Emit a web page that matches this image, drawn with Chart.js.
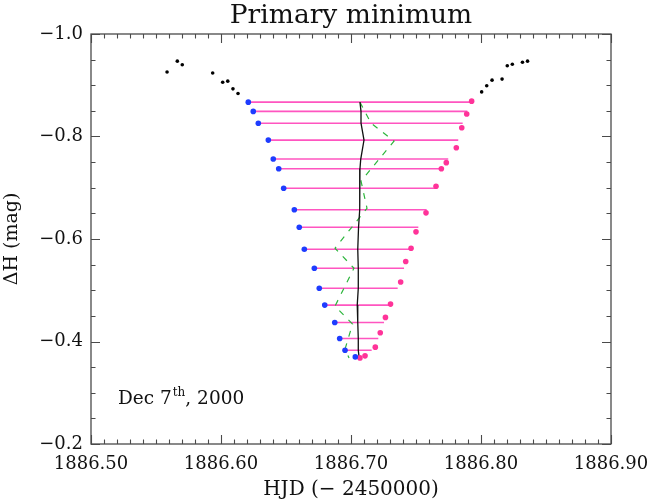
<!DOCTYPE html>
<html>
<head>
<meta charset="utf-8">
<script src="https://cdn.jsdelivr.net/npm/chart.js@4.4.1/dist/chart.umd.min.js"></script>
<style>
  html, body { margin: 0; padding: 0; background: #fff; }
  #wrap { width: 653px; height: 503px; }
</style>
</head>
<body>
<div id="wrap"><canvas id="minChart" width="653" height="503"></canvas></div>
<script>
// out-of-eclipse photometry
const outX = [1886.5585, 1886.5664, 1886.5702, 1886.5936, 1886.6013, 1886.6052, 1886.6092, 1886.6131,
              1886.8005, 1886.8044, 1886.8085, 1886.8162, 1886.8202, 1886.8241, 1886.8319, 1886.8358];
const outY = [-0.926, -0.947, -0.940, -0.924, -0.906, -0.908, -0.893, -0.884,
              -0.887, -0.899, -0.910, -0.912, -0.938, -0.941, -0.945, -0.947];

// descending branch
const ingX = [1886.6210, 1886.6248, 1886.6287, 1886.6364, 1886.6402, 1886.6444, 1886.6482, 1886.6564, 1886.6602,
              1886.6641, 1886.6718, 1886.6756, 1886.6798, 1886.6875, 1886.6913, 1886.6954, 1886.7033];
const ingY = [-0.867, -0.849, -0.826, -0.793, -0.756, -0.737, -0.699, -0.657, -0.623,
              -0.580, -0.543, -0.504, -0.471, -0.437, -0.406, -0.383, -0.370];

// where each chord meets the ascending branch (same level as ingY)
const chordEndX = [1886.7928, 1886.7895, 1886.7859, 1886.7825, 1886.7748, 1886.7700, 1886.7654, 1886.7582,
                   1886.7518, 1886.7454, 1886.7408, 1886.7359, 1886.7292, 1886.7254, 1886.7210, 1886.7159];

// chord bisector
const bisX = [1886.7069, 1886.7077, 1886.7077, 1886.7100, 1886.7075, 1886.7069, 1886.7065, 1886.7069, 1886.7058,
              1886.7052, 1886.7056, 1886.7056, 1886.7048, 1886.7052, 1886.7056, 1886.7056, 1886.7062];

// ascending branch
const egrX = [1886.7928, 1886.7890, 1886.7852, 1886.7810, 1886.7733, 1886.7695, 1886.7654, 1886.7577, 1886.7500,
              1886.7462, 1886.7421, 1886.7382, 1886.7304, 1886.7265, 1886.7225, 1886.7187, 1886.7108, 1886.7069];
const egrY = [-0.869, -0.844, -0.817, -0.778, -0.749, -0.737, -0.703, -0.651, -0.614,
              -0.582, -0.556, -0.516, -0.473, -0.447, -0.417, -0.389, -0.372, -0.368];

// alternative bisector (dashed)
const altX = [1886.7069, 1886.7154, 1886.7331, 1886.7077, 1886.7123, 1886.6877, 1886.7023, 1886.6877,
              1886.7012, 1886.6954, 1886.6985];
const altY = [-0.867, -0.826, -0.791, -0.713, -0.660, -0.582, -0.543, -0.469, -0.434, -0.385, -0.368];

const xTicks = [1886.50, 1886.60, 1886.70, 1886.80, 1886.90];
const yTicks = [-1.0, -0.8, -0.6, -0.4, -0.2];

const serif = '"DejaVu Serif", "Liberation Serif", serif';

function pts(xs, ys) {
  return xs.map((x, i) => ({ x: x, y: ys[i] }));
}

function chordPoints() {
  const out = [];
  chordEndX.forEach((xe, i) => {
    out.push({ x: ingX[i], y: ingY[i] });
    out.push({ x: xe, y: ingY[i] });
    out.push({ x: xe, y: null });
  });
  return out;
}

// frame with inward ticks, title and the date note
const framePlugin = {
  id: 'framePlugin',
  afterDraw(chart) {
    const { ctx, chartArea: a, scales } = chart;
    const x = scales.x, y = scales.y;
    ctx.save();
    ctx.strokeStyle = '#4a4a4a';
    ctx.lineWidth = 1.3;
    ctx.strokeRect(a.left, a.top, a.right - a.left, a.bottom - a.top);

    ctx.beginPath();
    for (let i = 0; i <= 40; i++) {
      const px = Math.round(x.getPixelForValue(1886.5 + i * 0.01)) + 0.5;
      const len = i % 10 === 0 ? 9 : 4.5;
      ctx.moveTo(px, a.bottom); ctx.lineTo(px, a.bottom - len);
      ctx.moveTo(px, a.top); ctx.lineTo(px, a.top + len);
    }
    for (let i = 0; i <= 16; i++) {
      const py = Math.round(y.getPixelForValue(-1.0 + i * 0.05)) + 0.5;
      const len = i % 4 === 0 ? 9 : 4.5;
      ctx.moveTo(a.left, py); ctx.lineTo(a.left + len, py);
      ctx.moveTo(a.right, py); ctx.lineTo(a.right - len, py);
    }
    ctx.lineWidth = 1.1;
    ctx.stroke();

    ctx.fillStyle = '#111';
    ctx.textAlign = 'center';
    ctx.textBaseline = 'middle';
    ctx.font = '26.5px ' + serif;
    ctx.fillText('Primary minimum', (a.left + a.right) / 2, 16);

    // date note
    ctx.textAlign = 'left';
    ctx.textBaseline = 'alphabetic';
    let tx = 118;
    const ty = 404;
    ctx.font = '18.5px ' + serif;
    ctx.fillText('Dec 7', tx, ty);
    tx += ctx.measureText('Dec 7').width + 1;
    ctx.font = '12px ' + serif;
    ctx.fillText('th', tx, ty - 8);
    tx += ctx.measureText('th').width;
    ctx.font = '18.5px ' + serif;
    ctx.fillText(', 2000', tx, ty);
    ctx.restore();
  }
};

new Chart(document.getElementById('minChart'), {
  type: 'scatter',
  data: {
    datasets: [
      {
        data: pts(outX, outY),
        pointRadius: 1.8,
        pointBackgroundColor: '#000',
        pointBorderWidth: 0
      },
      {
        data: pts(ingX, ingY),
        pointRadius: 2.8,
        pointBackgroundColor: '#1e3cff',
        pointBorderWidth: 0
      },
      {
        data: pts(egrX, egrY),
        pointRadius: 2.8,
        pointBackgroundColor: '#ff3399',
        pointBorderWidth: 0
      },
      {
        data: pts(bisX, ingY),
        showLine: true,
        pointRadius: 0,
        borderColor: '#111',
        borderWidth: 1.3
      },
      {
        data: pts(altX, altY),
        showLine: true,
        pointRadius: 0,
        borderColor: '#2cb53b',
        borderWidth: 1.2,
        borderDash: [6, 7]
      },
      {
        data: chordPoints(),
        showLine: true,
        spanGaps: false,
        pointRadius: 0,
        borderColor: '#ff55c0',
        borderWidth: 1.6
      }
    ]
  },
  options: {
    responsive: false,
    animation: false,
    events: [],
    layout: { padding: { top: 34, right: 42, left: 0, bottom: 0 } },
    plugins: {
      legend: { display: false },
      title: { display: false },
      tooltip: { enabled: false }
    },
    scales: {
      x: {
        type: 'linear',
        min: 1886.5,
        max: 1886.9,
        afterBuildTicks: s => { s.ticks = xTicks.map(v => ({ value: v })); },
        afterFit: s => { s.height = 59; s.paddingLeft = 0; s.paddingRight = 0; },
        grid: { display: false, drawTicks: false },
        border: { display: false },
        ticks: {
          padding: 10,
          color: '#111',
          font: { family: serif, size: 18 },
          maxRotation: 0,
          callback: v => v.toFixed(2)
        },
        title: {
          display: true,
          text: 'HJD (\u2212 2450000)',
          color: '#111',
          font: { family: serif, size: 20 },
          padding: { top: 0, bottom: 1 }
        }
      },
      y: {
        type: 'linear',
        min: -1.0,
        max: -0.2,
        reverse: true,
        afterBuildTicks: s => { s.ticks = yTicks.map(v => ({ value: v })); },
        afterFit: s => { s.width = 91; s.paddingTop = 0; s.paddingBottom = 0; },
        grid: { display: false, drawTicks: false },
        border: { display: false },
        ticks: {
          padding: 8,
          color: '#111',
          font: { family: serif, size: 18 },
          callback: v => '\u2212' + Math.abs(v).toFixed(1)
        },
        title: {
          display: true,
          text: '\u0394H (mag)',
          color: '#111',
          font: { family: serif, size: 19 },
          padding: { top: 1, bottom: 0 }
        }
      }
    }
  },
  plugins: [framePlugin]
});
</script>
</body>
</html>
